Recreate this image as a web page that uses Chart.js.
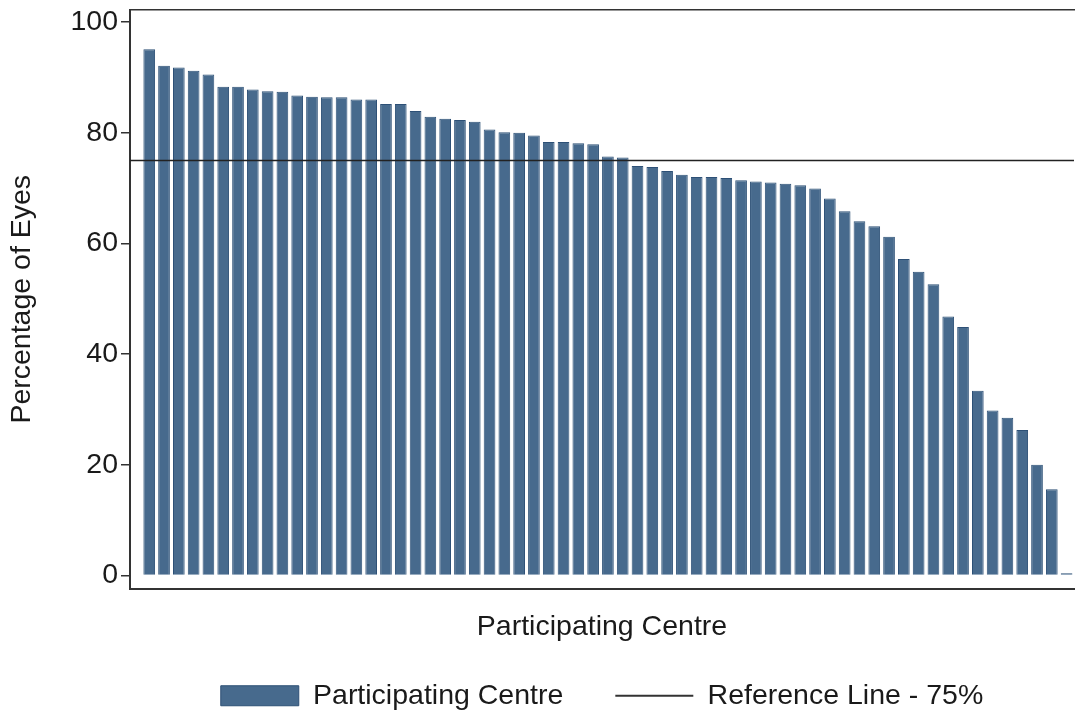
<!DOCTYPE html>
<html>
<head>
<meta charset="utf-8">
<script src="https://cdn.jsdelivr.net/npm/chart.js@4.4.1/dist/chart.umd.min.js"></script>
<style>
  html, body { margin: 0; padding: 0; background: #fff; }
  #wrap { width: 1075px; height: 717px; position: relative; }
</style>
</head>
<body>
<div id="wrap"><canvas id="centreChart"></canvas></div>
<script>
// percentage of eyes per participating centre (sorted high -> low)
const centreValues = [
  95.1, 92.1, 91.8, 91.2, 90.5, 88.3, 88.3, 87.8, 87.5, 87.4,
  86.7, 86.5, 86.4, 86.4, 86.0, 86.0, 85.2, 85.2, 83.9, 82.9,
  82.5, 82.3, 82.0, 80.6, 80.1, 80.0, 79.5, 78.3, 78.3, 78.1,
  77.9, 75.7, 75.5, 74.0, 73.8, 73.1, 72.4, 72.0, 72.0, 71.8,
  71.4, 71.2, 71.0, 70.8, 70.5, 69.9, 68.1, 65.8, 64.0, 63.1,
  61.2, 57.2, 54.9, 52.6, 46.8, 44.9, 33.4, 29.8, 28.5, 26.3,
  20.0, 15.6, 0.4
];
// centre position on the x axis, 1..n
const centreIds = centreValues.map((v, i) => i + 1);
const yTicks = [0, 20, 40, 60, 80, 100];
const refValue = 75;
const xRange = [-0.3, 63.5];
const yRange = [-2.35, 102.17];

const FONT = "'Liberation Sans', Arial, sans-serif";
const FS = 28.5;
const TXT = '#1a1a1a';
const AXIS = '#333333';
const BAR = '#476a8d';
const BAR_EDGE = '#2d5076';

const ctx = document.getElementById('centreChart').getContext('2d');
new Chart(ctx, {
  type: 'bar',
  data: {
    datasets: [
      {
        label: 'Participating Centre',
        data: centreIds.map((id, i) => ({ x: id, y: centreValues[i] })),
        backgroundColor: BAR,
        borderColor: BAR_EDGE,
        borderWidth: 1,
        barPercentage: 0.79,
        categoryPercentage: 1,
        xAxisID: 'x',
        yAxisID: 'y',
        order: 1
      },
      {
        type: 'line',
        label: 'Reference Line - 75%',
        data: [{ x: xRange[0], y: refValue }, { x: xRange[1], y: refValue }],
        borderColor: '#222222',
        borderWidth: 1.5,
        pointRadius: 0,
        xAxisID: 'x',
        yAxisID: 'y',
        order: -1
      }
    ]
  },
  options: {
    responsive: true,
    maintainAspectRatio: false,
    animation: false,
    layout: { padding: { top: 10, right: 1, left: 0, bottom: -3 } },
    plugins: {
      tooltip: { enabled: false },
      legend: {
        position: 'bottom',
        fullSize: false,
        labels: {
          usePointStyle: true,
          pointStyleWidth: 78,
          boxHeight: 20,
          padding: 52,
          color: TXT,
          font: { family: FONT, size: FS },
          sort: (a, b) => a.datasetIndex - b.datasetIndex,
          generateLabels: chart => {
            const items = Chart.defaults.plugins.legend.labels.generateLabels(chart);
            items.forEach(it => {
              if (it.datasetIndex === 0) {
                it.pointStyle = 'rect';
                it.lineWidth = 1;
              } else {
                it.pointStyle = 'line';
                it.lineWidth = 2;
                it.strokeStyle = AXIS;
              }
            });
            return items;
          }
        }
      }
    },
    scales: {
      x: {
        type: 'linear',
        position: 'bottom',
        offset: false,
        min: xRange[0],
        max: xRange[1],
        ticks: { display: false },
        grid: { display: false, offset: false },
        border: { display: true, color: AXIS, width: 2 },
        title: {
          display: true,
          text: 'Participating Centre',
          color: TXT,
          font: { family: FONT, size: FS },
          padding: { top: 0, bottom: -15 }
        },
        afterFit: scale => {
          scale.height = 41;
          scale.paddingLeft = 0;
          scale.paddingRight = 0;
        }
      },
      xTop: {
        type: 'linear',
        position: 'top',
        min: 0,
        max: 1,
        ticks: { display: false },
        grid: { display: false },
        border: { display: true, color: AXIS, width: 1.5 },
        afterFit: scale => { scale.height = 0; }
      },
      y: {
        type: 'linear',
        min: yRange[0],
        max: yRange[1],
        afterBuildTicks: scale => {
          scale.ticks = yTicks.map(v => ({ value: v }));
        },
        ticks: {
          color: TXT,
          padding: 3,
          font: { family: FONT, size: FS }
        },
        grid: {
          display: true,
          drawOnChartArea: false,
          drawTicks: true,
          tickLength: 9,
          color: AXIS,
          lineWidth: 1.5
        },
        border: { display: true, color: AXIS, width: 2 },
        title: {
          display: true,
          text: 'Percentage of Eyes',
          color: TXT,
          font: { family: FONT, size: FS },
          padding: { top: 5, bottom: 0 }
        },
        afterFit: scale => {
          scale.width = 130;
          scale.paddingTop = 0;
          scale.paddingBottom = 0;
        }
      }
    }
  }
});
</script>
</body>
</html>
